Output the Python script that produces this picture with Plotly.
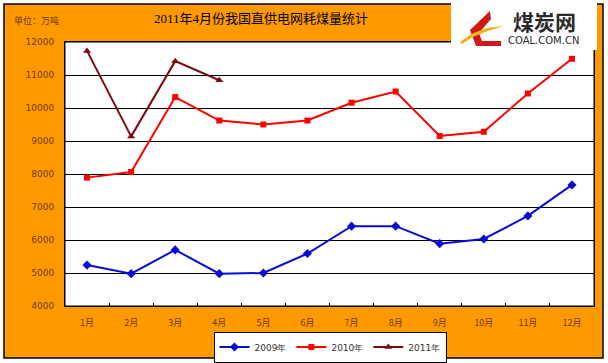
import plotly.graph_objects as go

months = ["1月", "2月", "3月", "4月", "5月", "6月", "7月", "8月", "9月", "10月", "11月", "12月"]
y2009 = [5240, 4980, 5700, 4980, 5000, 5590, 6420, 6420, 5890, 6030, 6730, 7670]
y2010 = [7890, 8060, 10330, 9620, 9500, 9620, 10160, 10500, 9150, 9280, 10440, 11490]
y2011 = [11730, 9140, 11420, 10840]
months2011 = months[:4]
series_names = ["2009年", "2010年", "2011年"]
yticks = [4000, 5000, 6000, 7000, 8000, 9000, 10000, 11000, 12000]

W, H = 608, 363
L, R, T, B = 65, 594, 42, 306


def px(x):
    return (x - L) / (R - L)


def py(y):
    return (B - y) / (B - T)


fig = go.Figure()
fig.add_trace(go.Scatter(x=months, y=y2009, name=series_names[0], mode="lines+markers",
                         line=dict(color="#0a0ad6", width=2),
                         marker=dict(symbol="diamond", size=7, color="#0a0ad6")))
fig.add_trace(go.Scatter(x=months, y=y2010, name=series_names[1], mode="lines+markers",
                         line=dict(color="#ff0000", width=2),
                         marker=dict(symbol="square", size=6, color="#ff0000")))
fig.add_trace(go.Scatter(x=months2011, y=y2011, name=series_names[2], mode="lines+markers",
                         line=dict(color="#7a0a14", width=2),
                         marker=dict(symbol="triangle-up", size=7, color="#7a0a14")))

tickcol = "#6b3a00"
shapes = [
    dict(type="rect", xref="paper", yref="paper", x0=px(4), x1=px(603), y0=py(358), y1=py(4),
         fillcolor="#ff9900", line=dict(color="black", width=1.5), layer="below"),
    dict(type="rect", xref="paper", yref="paper", x0=0, x1=1, y0=0, y1=1,
         fillcolor="white", line=dict(color="black", width=1), layer="below"),
    # logo
    dict(type="rect", xref="paper", yref="paper", x0=px(451), x1=px(597), y0=py(50), y1=py(2),
         fillcolor="white", line=dict(width=0), layer="above"),
]


def path_px(points):
    s = ""
    for i, (x, y) in enumerate(points):
        s += ("M" if i == 0 else "L") + f"{px(x):.5f},{py(y):.5f} "
    return s + "Z"


shapes.append(dict(type="path", xref="paper", yref="paper",
                   path=path_px([(490, 11), (470, 30), (476, 46), (501, 46), (501, 41), (482, 41), (479, 33), (491, 19)]),
                   fillcolor="#d01818", line=dict(width=0), layer="above"))
shapes.append(dict(type="path", xref="paper", yref="paper",
                   path=path_px([(460, 42), (471, 34), (487, 28), (504, 26), (488, 31), (473, 37), (462, 44)]),
                   fillcolor="#f0b020", line=dict(width=0), layer="above"))


def ann(text, x, y, size, family, color="black", xanchor="center"):
    return dict(text=text, xref="paper", yref="paper", x=px(x), y=py(y),
                xanchor=xanchor, yanchor="middle", showarrow=False,
                font=dict(family=family, size=size, color=color))


annotations = [
    ann("2011年4月份我国直供电网耗煤量统计", 261, 18, 13, "Liberation Serif, Noto Sans CJK SC"),
    ann("单位：万吨", 12, 20, 9, "Noto Sans CJK SC", tickcol, "left"),
    ann("<b>煤炭网</b>", 544, 21, 21, "Noto Sans CJK SC", "#2a2a2a"),
    ann("COAL.COM.CN", 543, 40, 10, "DejaVu Sans", "#2a2a2a"),
]

fig.update_layout(
    width=W, height=H,
    margin=dict(l=L, r=W - R, t=T, b=H - B, pad=0, autoexpand=False),
    paper_bgcolor="white",
    plot_bgcolor="rgba(0,0,0,0)",
    shapes=shapes,
    annotations=annotations,
    showlegend=True,
    legend=dict(orientation="h", x=px(330), y=py(347), xanchor="center", yanchor="middle",
                bgcolor="white", bordercolor="black", borderwidth=1,
                font=dict(family="DejaVu Sans", size=9, color="#333333"),
                itemwidth=30, tracegroupgap=0),
    xaxis=dict(type="category", range=[-0.5, 11.5], showgrid=False,
               showline=True, linecolor="black", linewidth=1, mirror=True,
               ticks="inside", ticklen=3, tickcolor="black", tickson="boundaries",
               tickfont=dict(family="Noto Sans CJK SC", size=9, color=tickcol),
               ticklabelstandoff=8),
    yaxis=dict(range=[4000, 12000], tickvals=yticks, tickformat="d",
               showgrid=True, gridcolor="black", gridwidth=1,
               showline=True, linecolor="black", linewidth=1, mirror=True, zeroline=False,
               ticks="", tickfont=dict(family="DejaVu Sans", size=9, color=tickcol),
               ticklabelstandoff=8),
)

fig.write_html("out.html", config={"displayModeBar": False},
               post_script="document.body.style.margin='0';document.body.style.overflow='hidden';")
